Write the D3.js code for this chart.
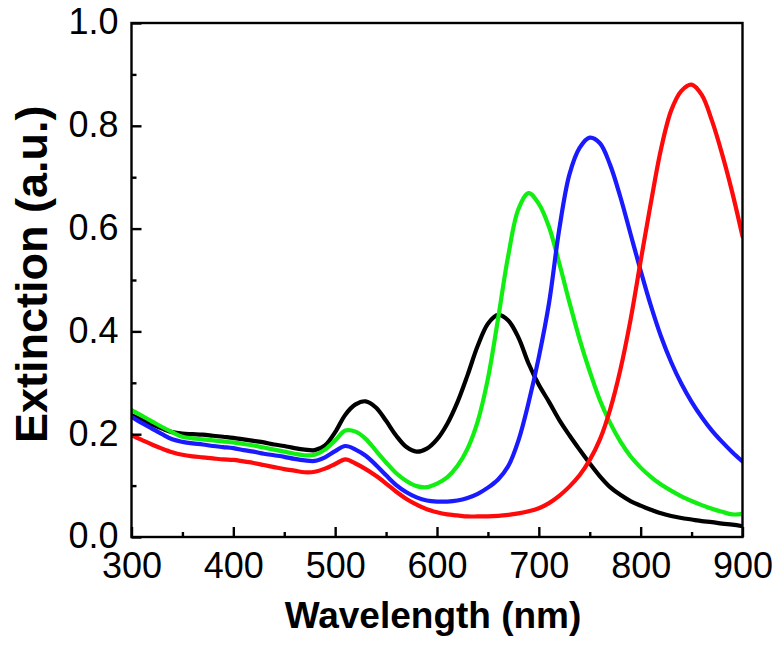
<!DOCTYPE html>
<html>
<head>
<meta charset="utf-8">
<script src="https://cdn.jsdelivr.net/npm/d3@7"></script>
<style>
  html, body { margin: 0; padding: 0; background: #fff; }
  svg { display: block; }
  text { font-family: "Liberation Sans", Arial, sans-serif; fill: #000; }
</style>
</head>
<body>
<svg id="chart" width="778" height="650"></svg>
<script>
// ---- data ----
const wavelength = [300,310,320,330,340,350,360,370,380,390,400,410,420,430,440,450,460,470,480,490,
  500,510,520,530,540,550,560,570,580,590,600,610,620,630,640,650,660,670,680,690,
  700,710,720,730,740,750,760,770,780,790,800,810,820,830,840,850,860,870,880,890,900];

const blackSeries = [0.237,0.228,0.219,0.211,0.204,0.201,0.200,0.199,0.197,0.195,0.193,0.190,0.187,0.184,0.180,0.177,0.173,0.170,0.169,0.178,
  0.204,0.238,0.258,0.264,0.252,0.226,0.197,0.175,0.166,0.172,0.190,0.220,0.262,0.315,0.372,0.415,0.432,0.421,0.388,0.337,
  0.296,0.263,0.228,0.198,0.170,0.143,0.118,0.097,0.082,0.070,0.061,0.053,0.046,0.041,0.037,0.034,0.031,0.029,0.026,0.024,0.021];

const greenSeries = [0.247,0.236,0.225,0.214,0.204,0.195,0.192,0.190,0.188,0.186,0.184,0.181,0.178,0.174,0.170,0.166,0.162,0.159,0.160,0.170,
  0.188,0.207,0.205,0.191,0.168,0.145,0.124,0.109,0.099,0.097,0.104,0.116,0.138,0.172,0.225,0.308,0.425,0.548,0.638,0.669,
  0.648,0.603,0.533,0.457,0.385,0.322,0.266,0.222,0.186,0.157,0.135,0.117,0.102,0.090,0.079,0.070,0.062,0.055,0.049,0.044,0.045];

const blueSeries = [0.234,0.222,0.211,0.200,0.190,0.185,0.182,0.180,0.177,0.175,0.173,0.169,0.166,0.162,0.159,0.156,0.152,0.149,0.148,0.155,
  0.167,0.177,0.170,0.158,0.140,0.120,0.101,0.087,0.077,0.071,0.069,0.069,0.071,0.076,0.084,0.096,0.112,0.138,0.188,0.262,
  0.350,0.455,0.598,0.705,0.757,0.777,0.766,0.724,0.662,0.590,0.518,0.450,0.390,0.340,0.298,0.263,0.233,0.207,0.185,0.165,0.147];

const redSeries = [0.198,0.189,0.180,0.172,0.165,0.160,0.157,0.155,0.153,0.151,0.150,0.147,0.144,0.140,0.136,0.132,0.129,0.126,0.127,0.133,
  0.142,0.151,0.143,0.132,0.119,0.104,0.088,0.074,0.063,0.054,0.048,0.044,0.042,0.040,0.040,0.040,0.041,0.043,0.046,0.050,
  0.056,0.066,0.080,0.098,0.120,0.150,0.190,0.248,0.325,0.422,0.537,0.650,0.755,0.830,0.868,0.880,0.860,0.810,0.745,0.670,0.585];

const seriesColors = ["#000000", "#11ee11", "#1a1aff", "#ff0a0a"];
const seriesList = [blackSeries, greenSeries, blueSeries, redSeries];

const xMajorTicks = [300,400,500,600,700,800,900];
const xMinorTicks = [350,450,550,650,750,850];
const yMajorTicks = [0.0,0.2,0.4,0.6,0.8,1.0];
const yMinorTicks = [0.1,0.3,0.5,0.7,0.9];

const xTitle = "Wavelength (nm)";
const yTitle = "Extinction (a.u.)";

// ---- layout ----
const pLeft = 131.5, pRight = 742.5, pTop = 23, pBottom = 537;
const svg = d3.select("#chart");
const x = d3.scaleLinear().domain([300, 900]).range([pLeft, pRight]);
const y = d3.scaleLinear().domain([0, 1]).range([pBottom, pTop]);

svg.append("defs").append("clipPath").attr("id", "clip")
  .append("rect").attr("x", pLeft).attr("y", pTop).attr("width", pRight - pLeft).attr("height", pBottom - pTop);

// curves
const line = d3.line()
  .x((d, i) => x(wavelength[i]))
  .y(d => y(d))
  .curve(d3.curveCatmullRom.alpha(0.5));

const plot = svg.append("g").attr("clip-path", "url(#clip)");
seriesList.forEach((s, k) => {
  plot.append("path")
    .datum(s)
    .attr("d", line)
    .attr("fill", "none")
    .attr("stroke", seriesColors[k])
    .attr("stroke-width", 4.2)
    .attr("stroke-linejoin", "round")
    .attr("stroke-linecap", "round");
});

// axes
const axisStroke = 2.4;
const tickFont = "36px";

const xAxis = svg.append("g").attr("transform", `translate(0,${pBottom})`)
  .call(d3.axisBottom(x).tickValues(xMajorTicks).tickSizeInner(-10).tickSizeOuter(0).tickPadding(0).tickFormat(d3.format("d")));
xAxis.select(".domain").remove();
xAxis.selectAll(".tick line").attr("stroke", "#000").attr("stroke-width", axisStroke);
xAxis.selectAll(".tick text").attr("y", 41).attr("dy", null).style("font-size", tickFont).style("font-family", "Liberation Sans, Arial, sans-serif");

const xMinor = svg.append("g").attr("transform", `translate(0,${pBottom})`)
  .call(d3.axisBottom(x).tickValues(xMinorTicks).tickSizeInner(-5).tickSizeOuter(0).tickFormat(""));
xMinor.select(".domain").remove();
xMinor.selectAll(".tick line").attr("stroke", "#000").attr("stroke-width", axisStroke);

const yAxis = svg.append("g").attr("transform", `translate(${pLeft},0)`)
  .call(d3.axisLeft(y).tickValues(yMajorTicks).tickSizeInner(-10).tickSizeOuter(0).tickPadding(0).tickFormat(d3.format(".1f")));
yAxis.select(".domain").remove();
yAxis.selectAll(".tick line").attr("stroke", "#000").attr("stroke-width", axisStroke);
yAxis.selectAll(".tick text").attr("x", -13).attr("dy", "0.3em").style("font-size", tickFont).style("font-family", "Liberation Sans, Arial, sans-serif");

const yMinor = svg.append("g").attr("transform", `translate(${pLeft},0)`)
  .call(d3.axisLeft(y).tickValues(yMinorTicks).tickSizeInner(-5).tickSizeOuter(0).tickFormat(""));
yMinor.select(".domain").remove();
yMinor.selectAll(".tick line").attr("stroke", "#000").attr("stroke-width", axisStroke);

// frame
svg.append("rect")
  .attr("x", pLeft).attr("y", pTop).attr("width", pRight - pLeft).attr("height", pBottom - pTop)
  .attr("fill", "none").attr("stroke", "#000").attr("stroke-width", axisStroke);

// titles
svg.append("text")
  .attr("x", (pLeft + pRight) / 2 - 4).attr("y", 628)
  .attr("text-anchor", "middle")
  .style("font-size", "37px").style("font-weight", "bold")
  .text(xTitle);

svg.append("text")
  .attr("transform", "translate(47,443) rotate(-90)")
  .attr("text-anchor", "start")
  .style("font-size", "45px").style("font-weight", "bold")
  .text(yTitle);
</script>
</body>
</html>
